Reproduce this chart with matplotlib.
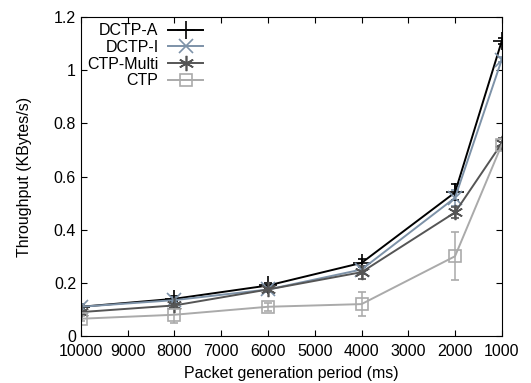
import numpy as np
import matplotlib
matplotlib.use("Agg")
import matplotlib.pyplot as plt
from matplotlib.lines import Line2D

plt.rcParams['font.family'] = ['Liberation Sans', 'DejaVu Sans']

# packet generation period (ms)
period = [10000, 8000, 6000, 4000, 2000, 1000]

# throughput (KBytes/s) and error bars
dctp_a = [0.11, 0.14, 0.19, 0.275, 0.54, 1.11]
dctp_a_err = [0.01, 0.01, 0.01, 0.015, 0.03, 0.01]
dctp_i = [0.11, 0.135, 0.175, 0.25, 0.52, 1.04]
dctp_i_err = [0.01, 0.01, 0.01, 0.015, 0.03, 0.01]
ctp_multi = [0.09, 0.115, 0.175, 0.24, 0.465, 0.725]
ctp_multi_err = [0.01, 0.01, 0.01, 0.025, 0.02, 0.02]
ctp = [0.065, 0.08, 0.11, 0.12, 0.30, 0.72]
ctp_err = [0.01, 0.03, 0.015, 0.045, 0.09, 0.02]

series = [
    ("DCTP-A", dctp_a, dctp_a_err, "#000000", "+", 13),
    ("DCTP-I", dctp_i, dctp_i_err, "#7d92a8", "x", 10),
    ("CTP-Multi", ctp_multi, ctp_multi_err, "#555555", (6, 2, 0), 11),
    ("CTP", ctp, ctp_err, "#aaaaaa", "s", 9),
]

fig = plt.figure(figsize=(5.31, 3.83), dpi=100)
ax = fig.add_axes([0.1525, 0.1227, 0.7925, 0.8329])

handles = []
for name, vals, err, col, mk, ms in series:
    ax.errorbar(period, vals, yerr=err, color=col, marker=mk, markersize=ms,
                markerfacecolor='none', markeredgewidth=1.2, linewidth=1.4,
                capsize=3, elinewidth=1.1)
    handles.append(Line2D([], [], color=col, marker=mk, markersize=ms,
                          markerfacecolor='none', markeredgewidth=1.2,
                          linewidth=1.4, label=name))

ax.set_xlim(10000, 1000)
ax.set_ylim(0, 1.2)
ax.set_xticks(np.arange(10000, 999, -1000))
ax.set_yticks([0, 0.2, 0.4, 0.6, 0.8, 1.0, 1.2])
ax.set_yticklabels(["0", "0.2", "0.4", "0.6", "0.8", "1", "1.2"])
ax.tick_params(direction='in', top=True, right=True, length=4, labelsize=11.5)
ax.tick_params(axis='x', pad=6)
ax.set_xlabel("Packet generation period (ms)", fontsize=11.5, labelpad=5)
ax.set_ylabel("Throughput (KBytes/s)", fontsize=11.5, labelpad=16)

leg = ax.legend(handles=handles, loc='upper left', markerfirst=False,
                frameon=False, fontsize=11.5, handlelength=2.2,
                handletextpad=0.6, labelspacing=0.1, borderaxespad=0.0,
                bbox_to_anchor=(0.0, 1.0))
for t in leg.get_texts():
    t.set_ha('right')

fig.savefig("out.png", dpi=100)
